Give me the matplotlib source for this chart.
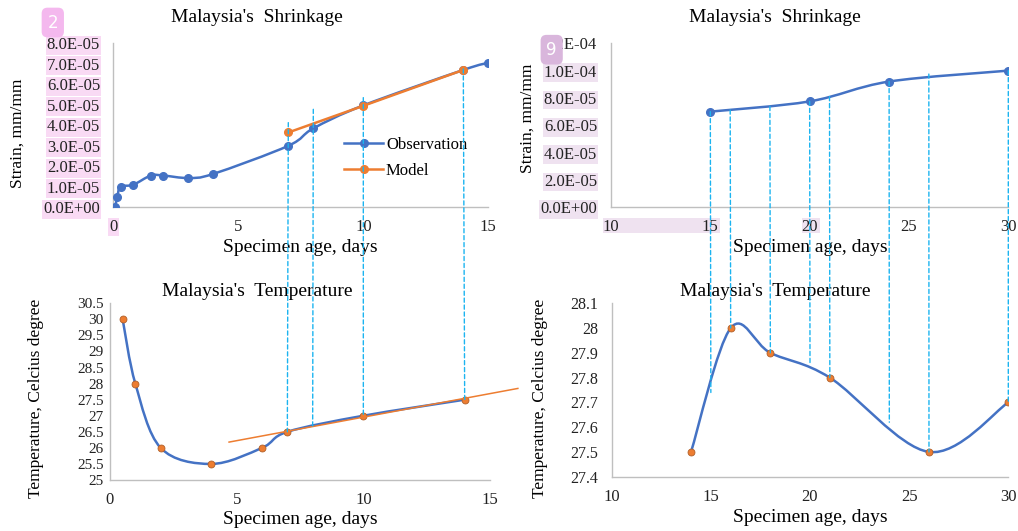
import numpy as np
import matplotlib
matplotlib.use('Agg')
import matplotlib.pyplot as plt
from matplotlib.path import Path
from matplotlib.patches import PathPatch, ConnectionPatch, Rectangle

# Donnees
# Retrait (haut gauche)
obs_age = [0.07, 0.16, 0.29, 0.8, 1.5, 2, 3, 4, 7, 8, 10, 14, 15]
obs_strain = [0.0, 0.5e-5, 1.0e-5, 1.1e-5, 1.55e-5, 1.55e-5, 1.43e-5, 1.63e-5,
              3.0e-5, 3.85e-5, 4.97e-5, 6.7e-5, 7.05e-5]
model_age = [7, 10, 14]
model_strain = [3.65e-5, 4.95e-5, 6.7e-5]

# Retrait (haut droite)
obs2_age = [15, 20, 24, 30]
obs2_strain = [7.0e-5, 7.75e-5, 9.2e-5, 1.0e-4]

# Temperature (bas gauche)
temp_age = [0.5, 1, 2, 4, 6, 7, 10, 14]
temp_val = [30, 28, 26, 25.5, 26, 26.5, 27, 27.5]
trend_age = [4.7, 16.1]
trend_val = [26.18, 27.85]

# Temperature (bas droite)
temp2_age = [14, 16, 18, 21, 26, 30]
temp2_val = [27.5, 28.0, 27.9, 27.8, 27.5, 27.7]

# Lignes de liaison entre les graphes (age, deformation en haut, temperature en bas)
link_age = [7, 8, 10, 14]
link_strain = [4.13e-5, 4.78e-5, 5.35e-5, 6.75e-5]
link_temp = [26.5, 26.65, 27.0, 27.5]
link2_age = [15, 16, 18, 20, 21, 24, 26, 30]
link2_strain = [7.0e-5, 7.12e-5, 7.38e-5, 7.75e-5, 8.1e-5, 9.2e-5, 9.75e-5, 1.0e-4]
link2_temp = [27.74, 28.0, 27.9, 27.85, 27.8, 27.62, 27.5, 27.7]

BLUE = '#4472C4'
ORANGE = '#ED7D31'
CYAN = '#1CB4F0'
SPINE = '#BFBFBF'

plt.rcParams['font.family'] = ['Liberation Serif', 'DejaVu Serif']
plt.rcParams['font.size'] = 12


# Courbe lissee facon Excel (Bezier de type Catmull-Rom)
def smooth_path(x, y):
    pts = np.column_stack([x, y]).astype(float)
    n = len(pts)
    verts = [pts[0]]
    codes = [Path.MOVETO]
    for i in range(n - 1):
        p0 = pts[max(i - 1, 0)]
        p1 = pts[i]
        p2 = pts[i + 1]
        p3 = pts[min(i + 2, n - 1)]
        verts += [p1 + (p2 - p0) / 6, p2 - (p3 - p1) / 6, p2]
        codes += [Path.CURVE4] * 3
    return Path(verts, codes)


def style_axes(ax, ypad=10, ysize=12, xpad=8.5):
    for s in ['top', 'right']:
        ax.spines[s].set_visible(False)
    for s in ['left', 'bottom']:
        ax.spines[s].set_color(SPINE)
        ax.spines[s].set_linewidth(1)
    ax.tick_params(axis='y', length=0, pad=ypad, labelsize=ysize, colors='#222222')
    ax.tick_params(axis='x', length=0, pad=xpad, labelsize=12, colors='#222222')


W, H = 1018, 531
fig = plt.figure(figsize=(W / 100, H / 100), dpi=100)

ax1 = fig.add_axes([113.3 / W, 1 - 207.3 / H, 375 / W, 164 / H])
ax2 = fig.add_axes([611 / W, 1 - 207.3 / H, 397.3 / W, 164 / H])
ax3 = fig.add_axes([110 / W, 1 - 480 / H, 380 / W, 176.7 / H])
ax4 = fig.add_axes([611.7 / W, 1 - 476.7 / H, 396.6 / W, 173.4 / H])

# Graphe 1 : retrait 0-15 jours
ax1.add_patch(PathPatch(smooth_path(obs_age, obs_strain), fill=False,
                        edgecolor=BLUE, lw=1.8, zorder=3))
ax1.plot(obs_age, obs_strain, 'o', color=BLUE, ms=5.5, zorder=4)
ax1.plot(model_age, model_strain, '-o', color=ORANGE, lw=1.8, ms=5.5, zorder=5)
ax1.plot([], [], '-o', color=BLUE, lw=1.8, ms=5.5, label='Observation')
ax1.plot([], [], '-o', color=ORANGE, lw=1.8, ms=5.5, label='Model')
ax1.set_xlim(0, 15)
ax1.set_ylim(0, 8e-5)
ax1.set_xticks([0, 5, 10, 15])
ax1.set_yticks(np.arange(0, 8.1e-5, 1e-5))
ax1.set_yticklabels(['%.1E' % v for v in np.arange(0, 8.1e-5, 1e-5)])
ax1.legend(loc='center', bbox_to_anchor=(0.78, 0.30), frameon=False,
           fontsize=12, handlelength=2.3, labelspacing=0.6, handletextpad=0.2)
style_axes(ax1, ypad=9.5)

# Graphe 2 : retrait 15-30 jours
ax2.add_patch(PathPatch(smooth_path(obs2_age, obs2_strain), fill=False,
                        edgecolor=BLUE, lw=1.8, zorder=3))
ax2.plot(obs2_age, obs2_strain, 'o', color=BLUE, ms=5.5, zorder=4)
ax2.set_xlim(10, 30)
ax2.set_ylim(0, 1.2e-4)
ax2.set_xticks([10, 15, 20, 25, 30])
ax2.set_yticks(np.arange(0, 1.21e-4, 2e-5))
ax2.set_yticklabels(['%.1E' % v for v in np.arange(0, 1.21e-4, 2e-5)])
style_axes(ax2, ypad=10)

# Graphe 3 : temperature 0-15 jours
ax3.add_patch(PathPatch(smooth_path(temp_age, temp_val), fill=False,
                        edgecolor=BLUE, lw=1.8, zorder=3))
ax3.plot(temp_age, temp_val, 'o', color=ORANGE, mec='#B0602A', mew=0.6, ms=5, zorder=4)
ax3.plot(trend_age, trend_val, '-', color=ORANGE, lw=1.1, zorder=5, clip_on=False)
ax3.set_xlim(0, 15)
ax3.set_ylim(25, 30.5)
ax3.set_xticks([0, 5, 10, 15])
ax3.set_yticks(np.arange(25, 30.51, 0.5))
ax3.set_yticklabels(['%g' % round(v, 1) for v in np.arange(25, 30.51, 0.5)])
style_axes(ax3, ypad=4.5, ysize=11, xpad=9)

# Graphe 4 : temperature 15-30 jours
ax4.add_patch(PathPatch(smooth_path(temp2_age, temp2_val), fill=False,
                        edgecolor=BLUE, lw=1.8, zorder=3))
ax4.plot(temp2_age, temp2_val, 'o', color=ORANGE, mec='#B0602A', mew=0.6, ms=5, zorder=4)
ax4.set_xlim(10, 30)
ax4.set_ylim(27.4, 28.1)
ax4.set_xticks([10, 15, 20, 25, 30])
ax4.set_yticks(np.arange(27.4, 28.11, 0.1))
ax4.set_yticklabels(['%g' % round(v, 1) for v in np.arange(27.4, 28.11, 0.1)])
style_axes(ax4, ypad=10, ysize=11.5, xpad=9)

# Titres et legendes des axes
for (x, y, t) in [(257, 18, "Malaysia's  Shrinkage"), (775, 18, "Malaysia's  Shrinkage"),
                  (257, 292, "Malaysia's  Temperature"), (775, 292, "Malaysia's  Temperature")]:
    fig.text(x / W, 1 - y / H, t, ha='center', va='center', fontsize=14)
for (x, y) in [(300, 248), (810, 248), (300, 519), (810, 518)]:
    fig.text(x / W, 1 - y / H, 'Specimen age, days', ha='center', va='center', fontsize=14)
fig.text(18 / W, 1 - 133 / H, 'Strain, mm/mm', rotation=90, ha='center', va='center', fontsize=12.5)
fig.text(528 / W, 1 - 118 / H, 'Strain, mm/mm', rotation=90, ha='center', va='center', fontsize=12.5)
fig.text(36 / W, 1 - 398 / H, 'Temperature, Celcius degree', rotation=90, ha='center', va='center', fontsize=12.5)
fig.text(540 / W, 1 - 398 / H, 'Temperature, Celcius degree', rotation=90, ha='center', va='center', fontsize=12.5)

# Lignes pointillees verticales reliant les graphes
for a, s, t in zip(link_age, link_strain, link_temp):
    con = ConnectionPatch(xyA=(a, s), coordsA=ax1.transData, xyB=(a, t), coordsB=ax3.transData,
                          color=CYAN, lw=1, linestyle=(0, (3, 2)), zorder=10)
    fig.add_artist(con)
for a, s, t in zip(link2_age, link2_strain, link2_temp):
    con = ConnectionPatch(xyA=(a, s), coordsA=ax2.transData, xyB=(a, t), coordsB=ax4.transData,
                          color=CYAN, lw=1, linestyle=(0, (3, 2)), zorder=10)
    fig.add_artist(con)

# Surlignages roses de la figure d'origine
for lab in ax1.get_yticklabels():
    lab.set_bbox(dict(facecolor='#F9DAF4', edgecolor='none', pad=1))
ax1.get_xticklabels()[0].set_bbox(dict(facecolor='#F9DAF4', edgecolor='none', pad=1))
for lab in ax2.get_yticklabels()[:-1]:
    lab.set_bbox(dict(facecolor='#EFE2F0', edgecolor='none', pad=1))
fig.add_artist(Rectangle((603 / W, 1 - 233 / H), 117 / W, 15 / H, transform=fig.transFigure,
                         facecolor='#EFE2F0', edgecolor='none', zorder=-1))
fig.add_artist(Rectangle((802 / W, 1 - 233 / H), 18 / W, 15 / H, transform=fig.transFigure,
                         facecolor='#EFE2F0', edgecolor='none', zorder=-1))
fig.text(52.8 / W, 1 - 22.5 / H, '2', color='white', ha='center', va='center', fontsize=12,
         family='DejaVu Sans',
         bbox=dict(boxstyle='round,pad=0.35', facecolor='#F4B8EE', edgecolor='none'))
fig.text(551.7 / W, 1 - 49.7 / H, '9', color='white', ha='center', va='center', fontsize=12,
         family='DejaVu Sans',
         bbox=dict(boxstyle='round,pad=0.35', facecolor='#D9B6DC', edgecolor='none'))

fig.savefig('out.png', dpi=100)
